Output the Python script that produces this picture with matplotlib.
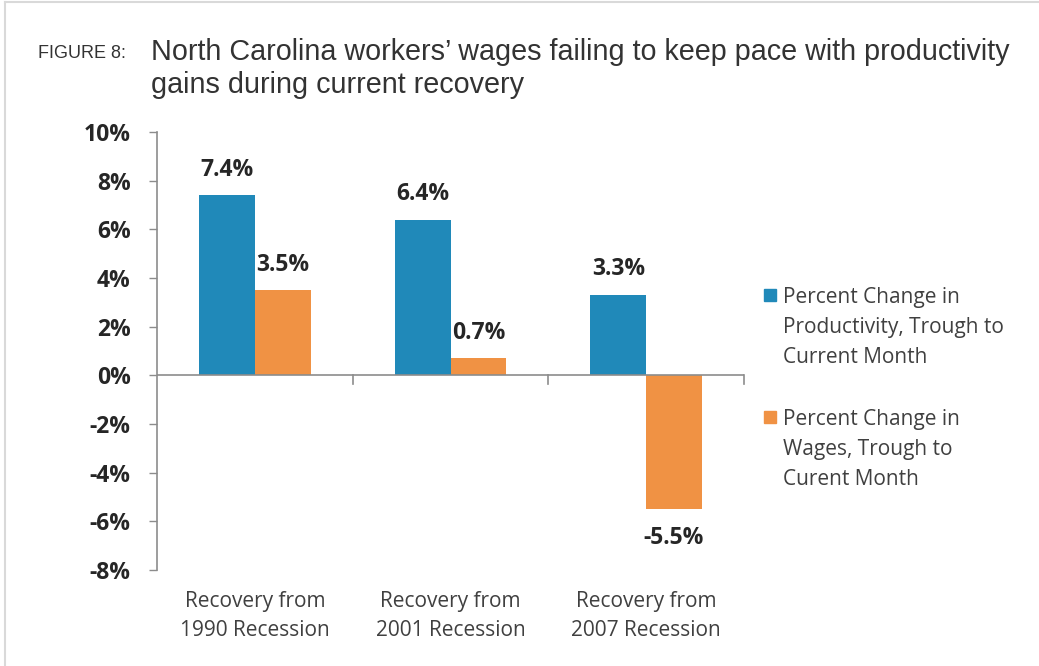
import matplotlib
matplotlib.use("Agg")
import matplotlib.pyplot as plt
from matplotlib.lines import Line2D
from matplotlib.patches import Rectangle

categories = ["Recovery from\n1990 Recession", "Recovery from\n2001 Recession", "Recovery from\n2007 Recession"]
productivity = [7.4, 6.4, 3.3]
wages = [3.5, 0.7, -5.5]
series_names = ["Percent Change in\nProductivity, Trough to\nCurrent Month",
                "Percent Change in\nWages, Trough to\nCurent Month"]
yticks = [-8, -6, -4, -2, 0, 2, 4, 6, 8, 10]

BLUE = "#2089b9"
ORANGE = "#f09244"
TXT = "#262626"
AX = "#8c8c8c"
body = "Open Sans"

fig = plt.figure(figsize=(10.39, 6.66), dpi=100)
fig.patch.set_facecolor("white")

# thin frame along top and left
fig.add_artist(Line2D([5/1039, 1], [1 - 2/666, 1 - 2/666], color="#d9d9d9", lw=1.5, transform=fig.transFigure))
fig.add_artist(Line2D([5/1039, 5/1039], [0, 1 - 2/666], color="#d9d9d9", lw=1.5, transform=fig.transFigure))

fig.text(38/1039, 1 - 53/666, "FIGURE 8:", family="Liberation Sans", fontsize=13, color="#333333", va="center")
fig.text(151/1039, 1 - 52/666, "North Carolina workers\u2019 wages failing to keep pace with productivity",
         family="Liberation Sans", fontsize=20.7, color="#333333", va="center")
fig.text(151/1039, 1 - 85/666, "gains during current recovery",
         family="Liberation Sans", fontsize=20.7, color="#333333", va="center")

ax = fig.add_axes([157/1039, 96/666, 587/1039, 438/666])
x = list(range(len(categories)))
w = 0.285
ax.bar([i - w/2 for i in x], productivity, w, color=BLUE, zorder=2)
ax.bar([i + w/2 for i in x], wages, w, color=ORANGE, zorder=2)

ax.set_xlim(-0.5, 2.5)
ax.set_ylim(-8, 10)
ax.set_yticks(yticks)
ax.set_yticklabels([f"{t}%" for t in yticks], family=body, fontweight="bold", fontsize=16.5, color=TXT)
ax.tick_params(axis="y", length=6, width=1, color=AX, pad=13)
ax.set_xticks([])

for s in ["top", "right", "bottom"]:
    ax.spines[s].set_visible(False)
ax.spines["left"].set_color(AX)
ax.spines["left"].set_linewidth(1.2)
ax.axhline(0, color=AX, lw=1.2, zorder=3)
for b in [0.5, 1.5, 2.5]:
    ax.plot([b, b], [0, -0.35], color=AX, lw=1.2, clip_on=False, zorder=3)

for i in x:
    for v, off in [(productivity[i], -w/2), (wages[i], w/2)]:
        if v >= 0:
            ax.text(i + off, v + 1.05, f"{v:.1f}%", ha="center", va="center",
                    family=body, fontweight="bold", fontsize=16.5, color=TXT)
        else:
            ax.text(i + off, v - 1.2, f"{v:.1f}%", ha="center", va="center",
                    family=body, fontweight="bold", fontsize=16.5, color=TXT)
    ax.text(i, -9.9, categories[i], ha="center", va="center", family=body,
            fontsize=15, color="#404040", linespacing=1.5, clip_on=False)

# legend drawn by hand to keep the wrapped labels aligned
for name, col, ytop in [(series_names[0], BLUE, 295), (series_names[1], ORANGE, 417)]:
    fig.add_artist(Rectangle((764/1039, 1 - (ytop + 6)/666), 12/1039, 12/666,
                             color=col, transform=fig.transFigure))
    fig.text(783/1039, 1 - (ytop - 8)/666, name, family=body, fontsize=15,
             color="#404040", va="top", linespacing=1.55)

fig.savefig("out.png", dpi=100, facecolor="white")
